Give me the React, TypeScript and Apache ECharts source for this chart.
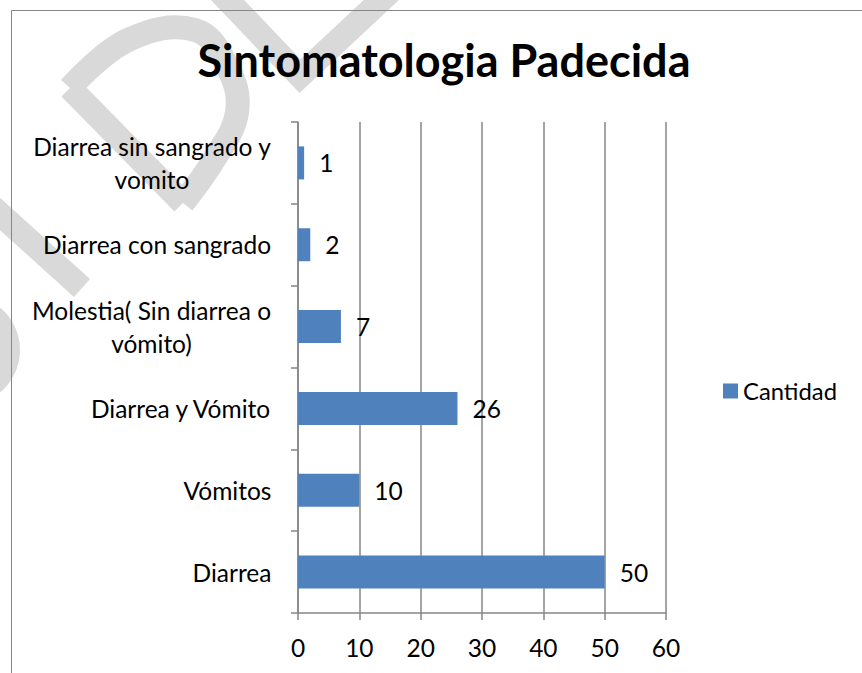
import React, { useEffect, useRef } from "react";
import * as echarts from "echarts";

const categories = [
  "Diarrea sin sangrado y\nvomito",
  "Diarrea con sangrado",
  "Molestia( Sin diarrea o\nvómito)",
  "Diarrea y Vómito",
  "Vómitos",
  "Diarrea",
];
const cantidad = [1, 2, 7, 26, 10, 50];
const seriesName = "Cantidad";
const titleText = "Sintomatologia Padecida";
const xMin = 0;
const xMax = 60;
const xStep = 10;

const FONT = "Lato";
const FS = 24.5;
const GRAY = "#868686";
const WM = "#d9d9d9";

function measure(text: string, size: number): number {
  const c = document.createElement("canvas").getContext("2d")!;
  c.font = `${size}px ${FONT}`;
  return Math.ceil(c.measureText(text).width) + 1;
}

export default function App() {
  const ref = useRef<HTMLDivElement>(null);
  useEffect(() => {
    document.body.style.margin = "0";
    const rich: Record<string, any> = {};
    categories.forEach((cat, i) => {
      const w = Math.max(...cat.split("\n").map((s) => measure(s, FS)));
      rich["c" + i] = {
        width: w,
        align: "center",
        fontFamily: FONT,
        fontSize: FS,
        lineHeight: 33,
        color: "#000",
      };
    });
    const chart = echarts.init(ref.current!, undefined, { renderer: "svg" });
    chart.setOption({
      animation: false,
      backgroundColor: "#ffffff",
      textStyle: { fontFamily: FONT },
      title: {
        text: titleText,
        left: 439,
        top: 32,
        textAlign: "center",
        textStyle: { fontFamily: FONT, fontSize: 45, fontWeight: "bold", color: "#000" },
      },
      legend: {
        data: [seriesName],
        left: 718,
        top: 374,
        icon: "rect",
        itemWidth: 15,
        itemHeight: 15,
        itemGap: 8,
        textStyle: { fontFamily: FONT, fontSize: 23.8, color: "#000" },
      },
      graphic: [
        {
          type: "polyline",
          z: -10,
          silent: true,
          shape: { points: [[70, 88], [183, 203]] },
          style: { stroke: WM, lineWidth: 24, fill: "none", lineCap: "butt" },
        },
        {
          type: "polyline",
          z: -10,
          silent: true,
          shape: {
            points: [[70, 88], [128, 40], [195, 30], [228, 68], [237, 112], [215, 158], [183, 203]],
            smooth: 0.4,
          },
          style: { stroke: WM, lineWidth: 24, fill: "none" },
        },
        {
          type: "polyline",
          z: -10,
          silent: true,
          shape: { points: [[-10, 205], [82, 288]] },
          style: { stroke: WM, lineWidth: 24, fill: "none" },
        },
        {
          type: "circle",
          z: -10,
          silent: true,
          shape: { cx: -35, cy: 350, r: 43 },
          style: { stroke: WM, lineWidth: 24, fill: "none" },
        },
        {
          type: "polyline",
          z: -10,
          silent: true,
          shape: { points: [[218, -10], [300, 76], [392, -10]] },
          style: { stroke: WM, lineWidth: 24, fill: "none", lineJoin: "miter" },
        },
        {
          type: "rect",
          z: -5,
          silent: true,
          shape: { x: 11.5, y: 10.5, width: 1000, height: 1000 },
          style: { stroke: GRAY, lineWidth: 1, fill: "none" },
        },
      ],
      grid: { left: 298, top: 122, width: 368, height: 491, containLabel: false },
      xAxis: {
        type: "value",
        min: xMin,
        max: xMax,
        interval: xStep,
        axisLine: { show: true, lineStyle: { color: GRAY, width: 1.5 } },
        axisTick: { show: true, length: 7, lineStyle: { color: GRAY, width: 1.5 } },
        splitLine: { show: true, lineStyle: { color: GRAY, width: 1.5 } },
        axisLabel: { fontFamily: FONT, fontSize: FS, color: "#000", margin: 22 },
      },
      yAxis: {
        type: "category",
        inverse: true,
        data: categories,
        axisLine: { show: true, lineStyle: { color: GRAY, width: 1.5 } },
        axisTick: { show: true, length: 7, lineStyle: { color: GRAY, width: 1.5 } },
        axisLabel: {
          margin: 26,
          fontFamily: FONT,
          fontSize: FS,
          color: "#000",
          lineHeight: 33,
          formatter: (v: string, i: number) =>
            v
              .split("\n")
              .map((s) => `{c${i}|${s}}`)
              .join("\n"),
          rich,
        },
      },
      series: [
        {
          name: seriesName,
          type: "bar",
          data: cantidad,
          barWidth: 33,
          itemStyle: { color: "#4f81bd" },
          label: {
            show: true,
            position: "right",
            distance: 15,
            fontFamily: FONT,
            fontSize: FS,
            color: "#000",
          },
        },
      ],
    });
    return () => chart.dispose();
  }, []);
  return <div ref={ref} style={{ width: 862, height: 673 }} />;
}
